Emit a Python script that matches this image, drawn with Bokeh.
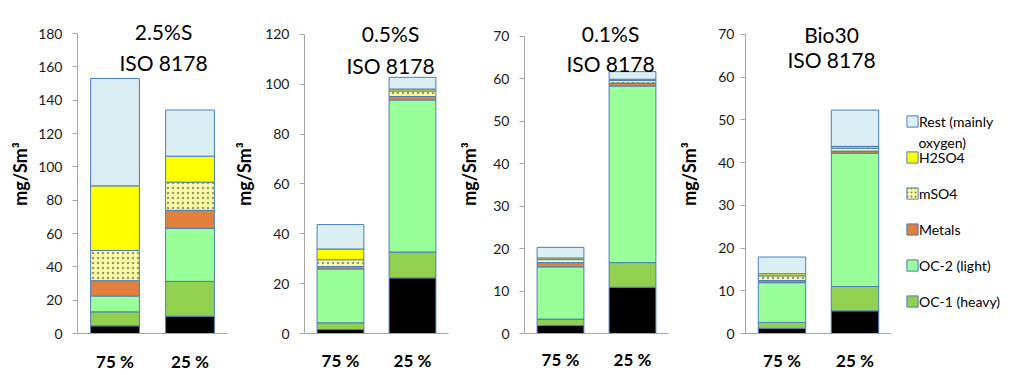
from bokeh.plotting import figure
from bokeh.models import (ColumnDataSource, FactorRange, Range1d, SingleIntervalTicker,
                          Label, Legend, LegendItem)
from bokeh.layouts import row
from bokeh.embed import file_html
from bokeh.resources import INLINE

# ---------------- data ----------------
categories = ["75 %", "25 %"]
components = ["EC", "OC-1 (heavy)", "OC-2 (light)", "Metals", "mSO4", "H2SO4",
              "Rest (mainly oxygen)"]

# values per bar, bottom to top (EC, OC-1, OC-2, Metals, mSO4, H2SO4, Rest), mg/Sm3
s25_75 = [4.6, 8.4, 9.5, 9.2, 18.1, 38.8, 64.4]
s25_25 = [10.4, 20.9, 31.8, 10.8, 16.9, 15.6, 27.7]
s05_75 = [1.6, 2.7, 21.6, 1.0, 2.7, 4.3, 9.8]
s05_25 = [22.3, 10.4, 61.0, 1.4, 2.2, 0.8, 4.7]
s01_75 = [1.9, 1.5, 12.3, 1.0, 0.7, 0.4, 2.5]
s01_25 = [10.9, 5.8, 41.6, 0.7, 0.6, 0.3, 1.8]
bio_75 = [1.2, 1.4, 9.3, 0.5, 1.1, 0.5, 3.9]
bio_25 = [5.3, 5.7, 31.2, 0.5, 0.7, 0.4, 8.5]

fuel_titles = ["2.5%S", "0.5%S", "0.1%S", "Bio30"]
method_title = "ISO 8178"
y_max = [180, 120, 70, 70]
y_step = [20, 20, 10, 10]
y_label = "mg/Sm\u00b3"
legend_order = [6, 5, 4, 3, 2, 1]
legend_text = ["Rest (mainly", "H2SO4", "mSO4", "Metals", "OC-2 (light)", "OC-1 (heavy)"]
legend_wrap = "oxygen)"

# ---------------- style ----------------
colors = ["#000000", "#92D050", "#99FF99", "#E0803C", "#FFFFA8", "#FFFF00", "#DAEEF3"]
hatches = [" ", " ", " ", " ", "dot", " ", " "]
OUTLINE = "#4A7EBB"
FONT = "Lato"
H = 374
HATCH = dict(hatch_color="#000000", hatch_scale=5, hatch_alpha=0.4, hatch_weight=0.5)

# per panel: width, borders, tick label standoff, axis label standoff,
# x label standoff, pixel span of the tick range, title lines y (screen, from frame bottom)
layout = [
    dict(w=230, bl=77, br=3, bt=14, bb=41, ts=10, als=4, xs=17, span=300, t1=302, t2=271),
    dict(w=225, bl=68, br=7, bt=14, bb=40, ts=10, als=7, xs=16, span=300, t1=300, t2=268),
    dict(w=220, bl=65, br=7, bt=14, bb=39, ts=10, als=10, xs=15, span=299, t1=300, t2=270),
    dict(w=216, bl=68, br=0, bt=14, bb=40, ts=6, als=15, xs=16, span=300, t1=299, t2=274),
]


def make_source(v75, v25):
    data = {"cat": categories}
    for k, name in enumerate(components):
        data[name] = [v75[k], v25[k]]
    return ColumnDataSource(data)


def make_panel(i, src):
    L = layout[i]
    frame_h = H - L["bt"] - L["bb"]
    y_end = y_max[i] * frame_h / L["span"]
    p = figure(x_range=FactorRange(*categories), y_range=Range1d(0, y_end),
               width=L["w"], height=H, output_backend="svg", toolbar_location=None,
               min_border_left=L["bl"], min_border_right=L["br"],
               min_border_top=L["bt"], min_border_bottom=L["bb"])
    p.outline_line_color = None
    p.grid.visible = False
    p.background_fill_color = "white"
    p.border_fill_color = "white"

    p.vbar_stack(components, x="cat", width=0.65, source=src,
                 fill_color=colors, line_color=OUTLINE, line_width=1,
                 hatch_pattern=hatches, **HATCH)

    ya = p.yaxis[0]
    ya.bounds = (0, y_max[i])
    ya.ticker = SingleIntervalTicker(interval=y_step[i], num_minor_ticks=0)
    ya.axis_line_color = "#A6A6A6"
    ya.major_tick_line_color = "#A6A6A6"
    ya.major_tick_out = 5
    ya.major_tick_in = 0
    ya.minor_tick_line_color = None
    ya.major_label_text_font = FONT
    ya.major_label_text_font_size = "14px"
    ya.major_label_text_color = "#1A1A1A"
    ya.major_label_standoff = L["ts"]
    ya.axis_label = y_label
    ya.axis_label_text_font = FONT
    ya.axis_label_text_font_size = "18px"
    ya.axis_label_text_font_style = "bold"
    ya.axis_label_text_color = "#000000"
    ya.axis_label_standoff = L["als"]

    xa = p.xaxis[0]
    xa.axis_line_color = "#A6A6A6"
    xa.major_tick_line_color = None
    xa.major_tick_out = 0
    xa.major_tick_in = 0
    xa.minor_tick_line_color = None
    xa.major_label_text_font = FONT
    xa.major_label_text_font_size = "17px"
    xa.major_label_text_font_style = "bold"
    xa.major_label_text_color = "#000000"
    xa.major_label_standoff = L["xs"]

    for txt, yy in ((fuel_titles[i], L["t1"]), (method_title, L["t2"])):
        p.add_layout(Label(x=86, y=yy, x_units="screen", y_units="screen", text=txt,
                           text_align="center", text_baseline="middle",
                           text_font=FONT, text_font_size="21px", text_color="#000000"))
    return p


src4 = make_source(bio_75, bio_25)
p1 = make_panel(0, make_source(s25_75, s25_25))
p2 = make_panel(1, make_source(s05_75, s05_25))
p3 = make_panel(2, make_source(s01_75, s01_25))
p4 = make_panel(3, src4)

# legend panel: hidden copies of the series give the legend swatches
pl = figure(width=129, height=H, output_backend="svg", toolbar_location=None,
            x_range=FactorRange(*categories), y_range=Range1d(0, 1),
            x_axis_location=None, y_axis_location=None,
            min_border_left=0, min_border_right=0, min_border_top=14, min_border_bottom=40)
pl.outline_line_color = None
pl.grid.visible = False
hidden = pl.vbar_stack(components, x="cat", width=0.65, source=src4,
                       fill_color=colors, line_color=OUTLINE, line_width=1,
                       hatch_pattern=hatches, visible=False,
                       hatch_color="#000000", hatch_scale=4, hatch_alpha=0.5,
                       hatch_weight=0.5)
items = [LegendItem(label=txt, renderers=[hidden[k]])
         for k, txt in zip(legend_order, legend_text)]
leg = Legend(items=items, location=(14, 22), orientation="vertical",
             glyph_width=14, glyph_height=14, label_height=20,
             label_standoff=0, spacing=16, padding=0, margin=0,
             border_line_color=None, background_fill_alpha=0,
             inactive_fill_alpha=0,
             label_text_font=FONT, label_text_font_size="14px",
             label_text_color="#000000")
pl.add_layout(leg)
pl.add_layout(Label(x=27, y=191, x_units="screen", y_units="screen", text=legend_wrap,
                    text_align="left", text_baseline="middle",
                    text_font=FONT, text_font_size="14px", text_color="#000000"))

page = row(p1, p2, p3, p4, pl)
open("out.html", "w").write(file_html(page, INLINE))
